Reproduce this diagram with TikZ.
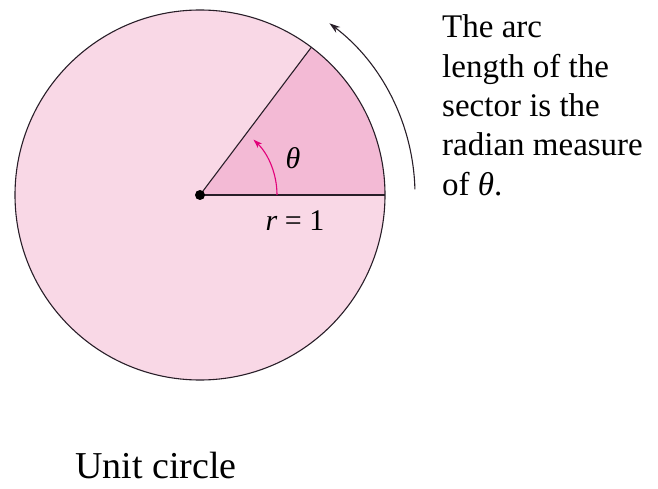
\documentclass[tikz,border=0pt]{standalone}
\usepackage{fontspec}
\setmainfont{Liberation Serif}
\usetikzlibrary{arrows.meta,calc}
\definecolor{circfill}{RGB}{249,216,230}
\definecolor{sectfill}{RGB}{243,186,213}
\definecolor{thetaarrow}{RGB}{226,0,122}
\definecolor{edge}{RGB}{40,30,40}
\begin{document}
\begin{tikzpicture}[x=1pt,y=1pt,
  bigtext/.style={font=\fontsize{33}{40}\selectfont, inner sep=0pt, anchor=base west},
  labeltext/.style={font=\fontsize{30}{36}\selectfont, inner sep=0pt},
  outline/.style={draw=edge, line width=1.1pt},
  arrowline/.style={draw=edge, line width=1.1pt, -{Stealth[length=11pt,width=7pt]}}]
\useasboundingbox (0,0) rectangle (658,488);
\coordinate (O) at (200,293);
\fill[circfill] (O) circle (185);
\fill[sectfill] (O) -- ($(O)+(0:185)$) arc (0:53:185) -- cycle;
\draw[outline] (O) circle (185);
\draw[outline] (O) -- ($(O)+(0:185)$);
\draw[outline] (O) -- ($(O)+(53:185)$);
\draw[draw=thetaarrow, line width=1.1pt, -{Stealth[length=9pt,width=6pt]}] ($(O)+(0:77)$) arc (0:46:77);
\draw[arrowline] ($(O)+(1.5:215)$) arc (1.5:53:215);
\node[circle, fill=black, inner sep=0pt, minimum size=10pt] (dot) at (O) {};
\node[labeltext] (theta) at (293,330) {\itshape θ};
\node[labeltext, anchor=base] (r) at (295,258) {\itshape r\/\upshape\ = 1};
\node[bigtext] (t1) at (442,450) {The arc};
\node[bigtext] (t2) at (442,410.7) {length of the};
\node[bigtext] (t3) at (442,371.4) {sector is the};
\node[bigtext] (t4) at (442,332.1) {radian measure};
\node[bigtext] (t5) at (442,292.8) {of \itshape θ\upshape.};
\node[font=\fontsize{38}{46}\selectfont, inner sep=0pt, anchor=base] (cap) at (156,10) {Unit circle};
\end{tikzpicture}
\end{document}
